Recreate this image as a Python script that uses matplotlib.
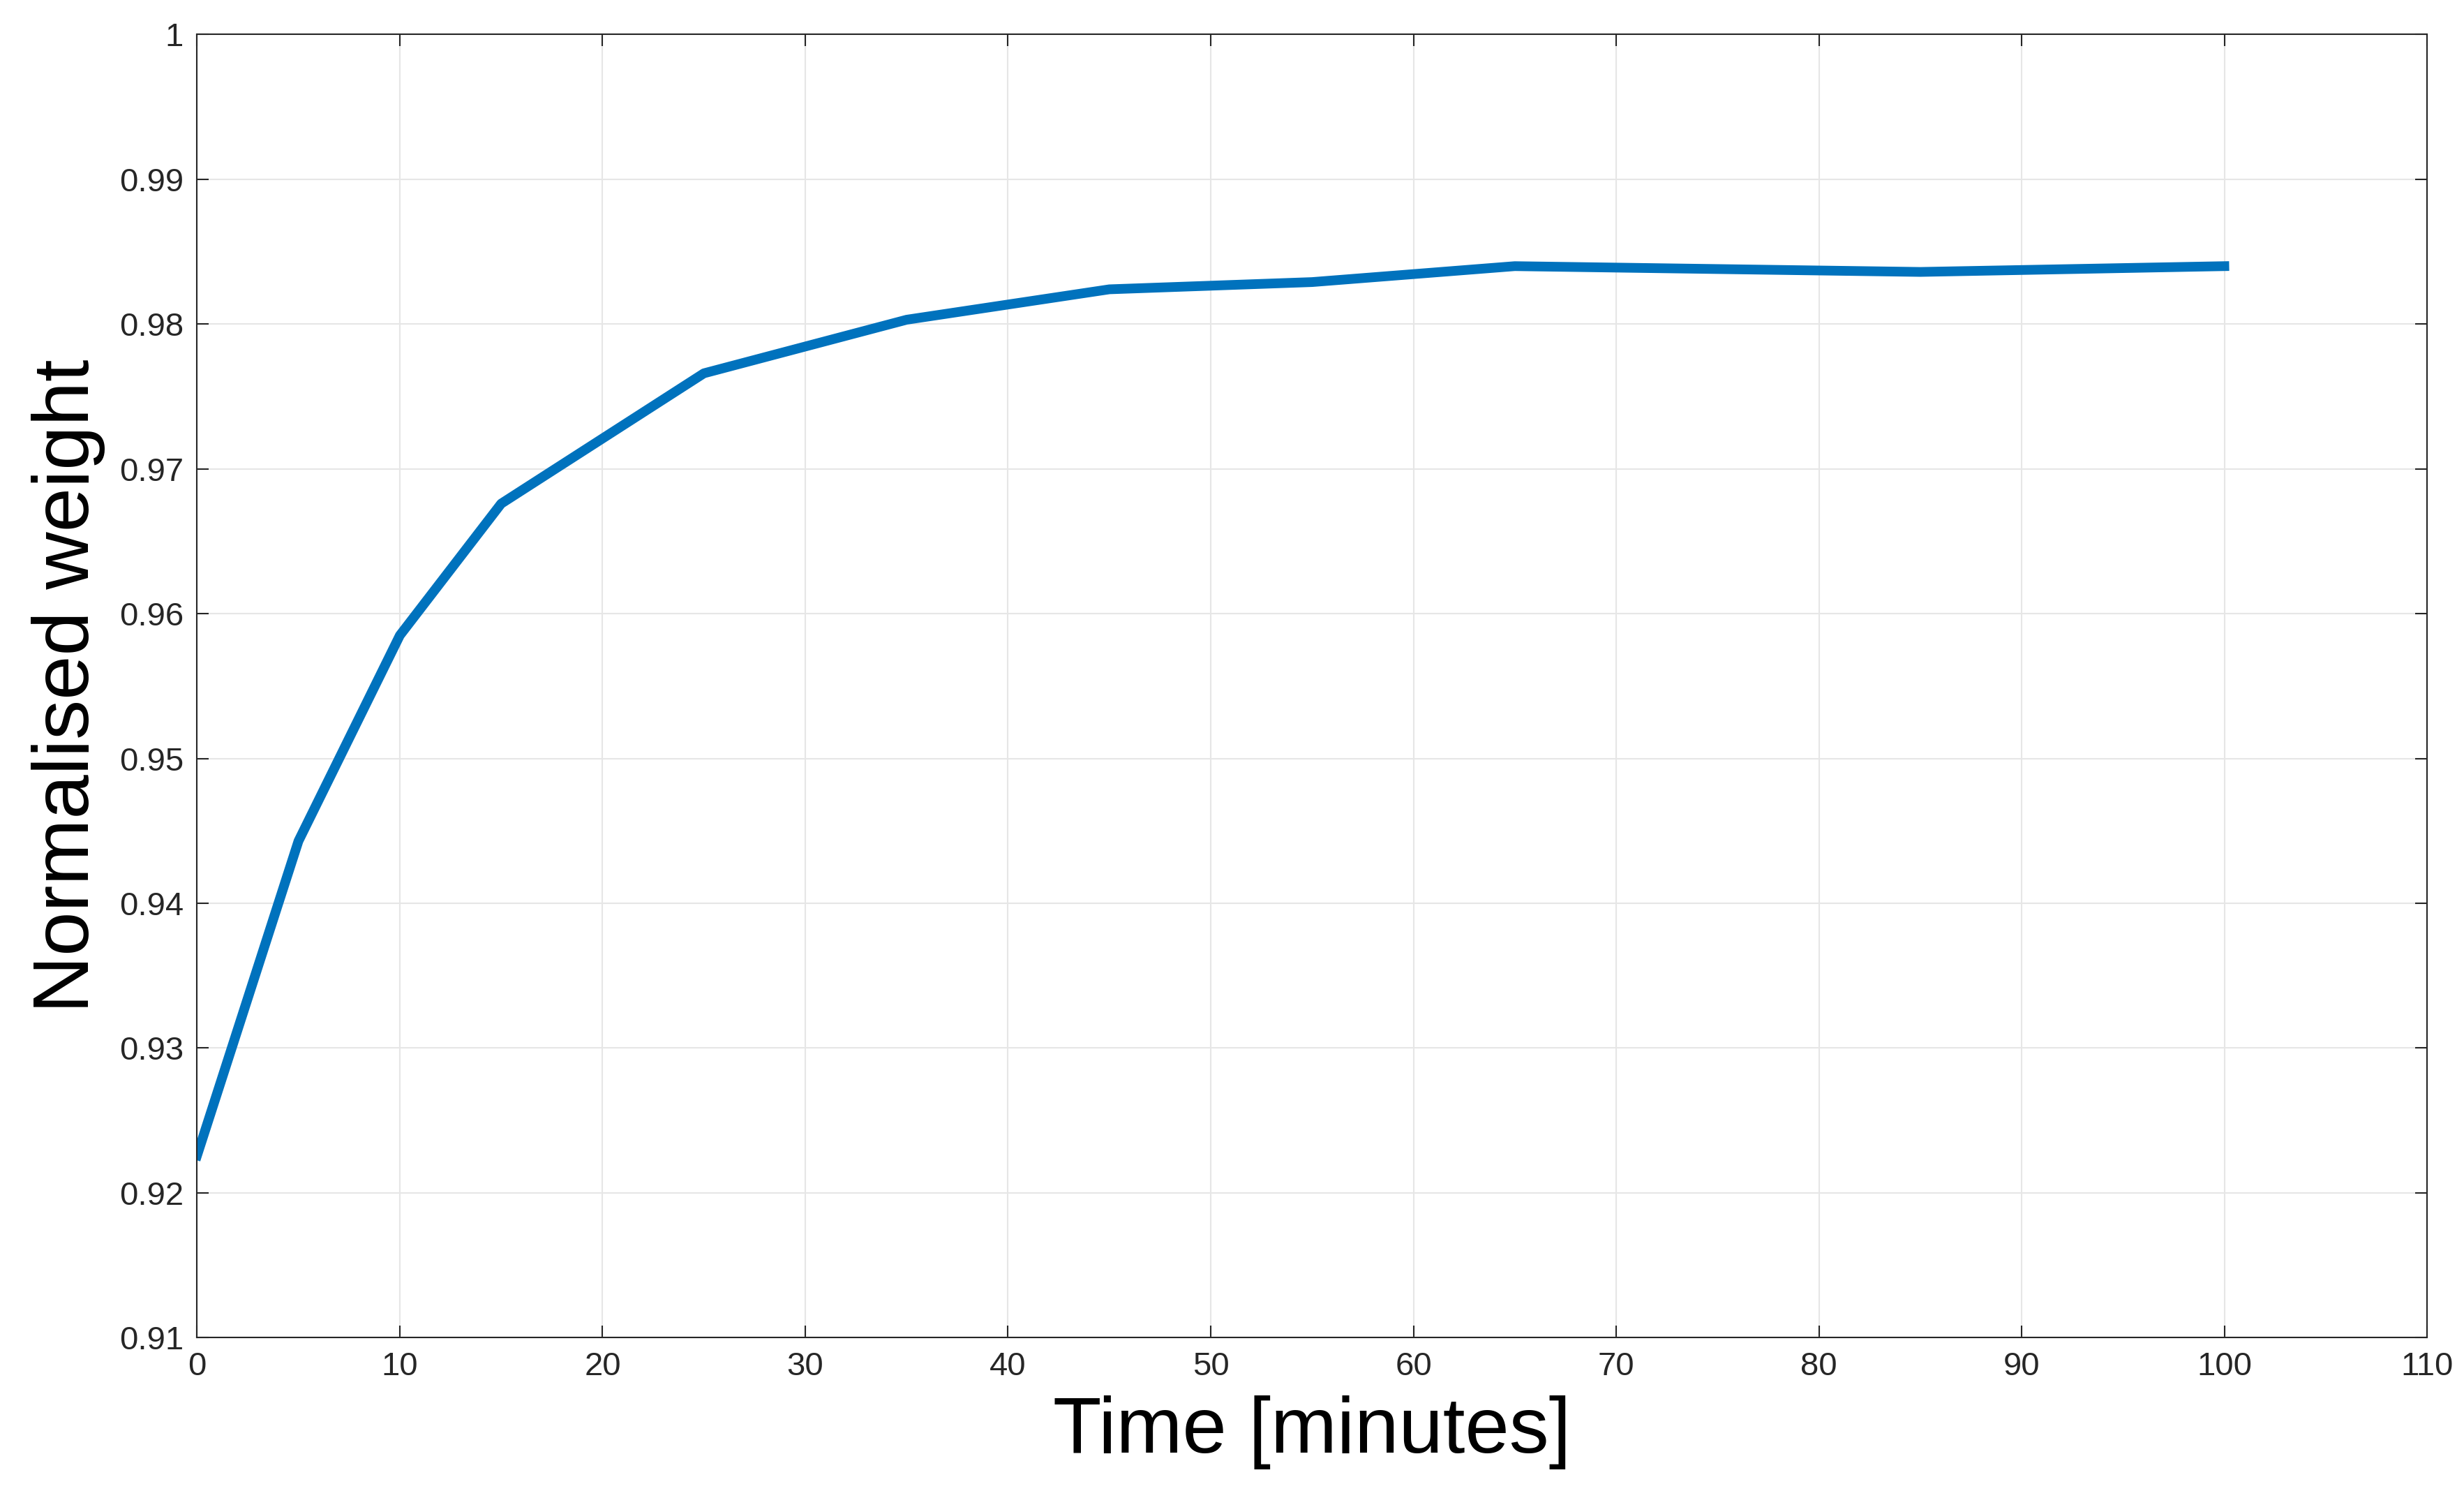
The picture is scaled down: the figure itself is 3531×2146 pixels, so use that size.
import matplotlib
matplotlib.use("Agg")
import matplotlib.pyplot as plt

time_min = [0, 5, 10, 15, 25, 35, 45, 55, 65, 85, 100]
weight = [0.9226, 0.9443, 0.9585, 0.9676, 0.9766, 0.9803, 0.9824, 0.9829, 0.9840, 0.9836, 0.9840]

plt.rcParams['font.family'] = ['Arial', 'Liberation Sans', 'DejaVu Sans']
fig = plt.figure(figsize=(35.31, 21.46), dpi=100)
ax = fig.add_axes([0.080, 0.107, 0.905, 0.870])
ax.plot(time_min, weight, color='#0072BD', lw=10, solid_joinstyle='round')
ax.set_xlim(0, 110)
ax.set_ylim(0.91, 1.0)
ax.set_xticks(range(0, 111, 10))
ax.set_yticks([0.91, 0.92, 0.93, 0.94, 0.95, 0.96, 0.97, 0.98, 0.99, 1.0])
ax.set_yticklabels(['0.91', '0.92', '0.93', '0.94', '0.95', '0.96', '0.97', '0.98', '0.99', '1'])
ax.grid(True, color='#e6e6e6', lw=1.5)
ax.tick_params(labelsize=34, colors='#262626', direction='in', length=12, width=1.5, top=True, right=True, pad=14)
for s in ax.spines.values():
    s.set_color('#262626'); s.set_linewidth(1.5)
ax.set_xlabel('Time [minutes]', fontsize=82, labelpad=14)
ax.set_ylabel('Normalised weight', fontsize=82, labelpad=14)
fig.savefig('out.png', dpi=100, facecolor='white')
